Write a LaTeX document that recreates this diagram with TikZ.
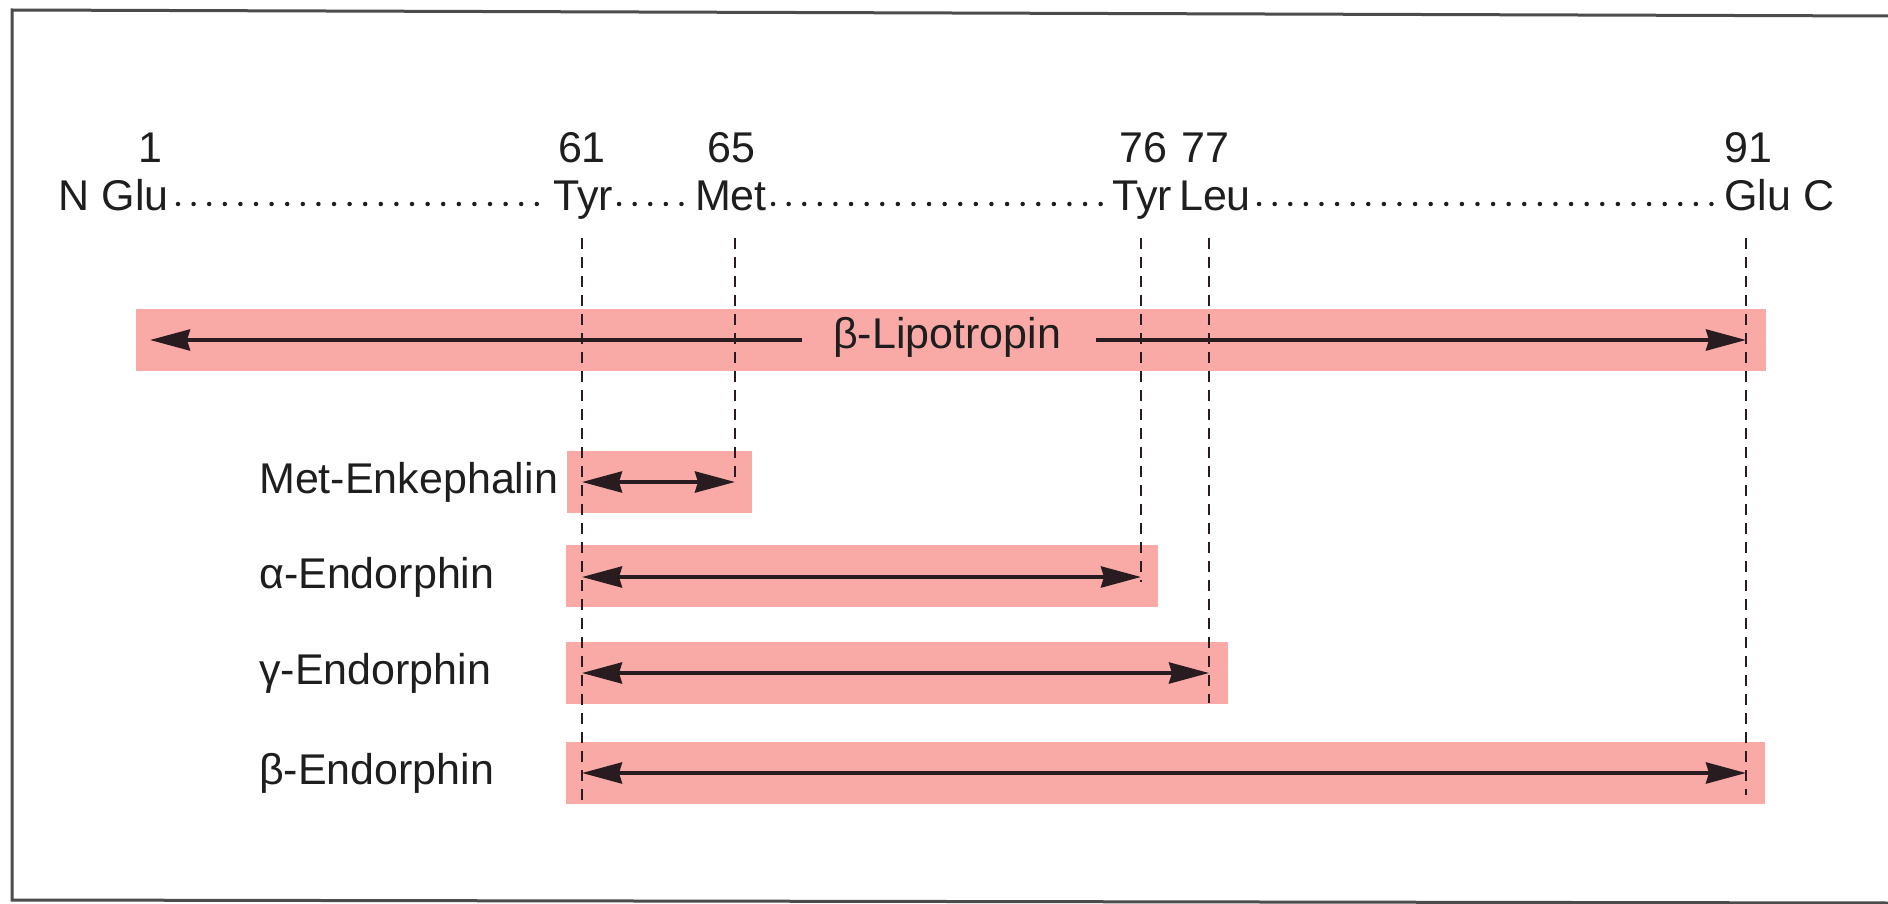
\documentclass[tikz,border=0pt]{standalone}
\usepackage{fontspec}
\setmainfont{Liberation Sans}
\usetikzlibrary{arrows.meta}
\definecolor{band}{RGB}{249,170,166}
\definecolor{ink}{RGB}{40,28,32}
\definecolor{txt}{RGB}{30,30,30}
\begin{document}
\begin{tikzpicture}[x=1pt,y=-1pt,
  lbl/.style={font=\fontsize{43}{48}\selectfont, text=txt, inner sep=0pt},
  bandbox/.style={fill=band, draw=none, inner sep=0pt, minimum height=62pt, anchor=west},
  arr/.style={draw=ink, line width=3.8pt, {Stealth[length=40pt,width=21pt,inset=3pt]}-{Stealth[length=40pt,width=21pt,inset=3pt]}},
  arrr/.style={draw=ink, line width=3.8pt, -{Stealth[length=40pt,width=21pt,inset=3pt]}},
  dashline/.style={draw=ink, line width=2pt, dash pattern=on 11pt off 8pt},
  dotline/.style={draw=txt, line width=4.5pt, line cap=round, dash pattern=on 0pt off 15.6pt},
  frame/.style={draw=black!70, line width=3pt}]
\clip (0,0) rectangle (1888,904);
\fill[white] (0,0) rectangle (1888,904);
% frame
\coordinate (fTL) at (12,10);
\coordinate (fTR) at (1890,16);
\coordinate (fBL) at (12,900);
\coordinate (fBR) at (1890,903);
\draw[frame] (fTR) -- (fTL) -- (fBL) -- (fBR);

% bands
\node[bandbox, minimum width=1630pt] (lipband) at (136,340) {};
\node[bandbox, minimum width=185pt] (metband) at (567,482) {};
\node[bandbox, minimum width=592pt] (alphaband) at (566,576) {};
\node[bandbox, minimum width=662pt] (gammaband) at (566,673) {};
\node[bandbox, minimum width=1199pt] (betaband) at (566,773) {};

% residue labels
\node[lbl, anchor=base] (n1) at (150,163) {1};
\node[lbl, anchor=base east] (nglu) at (169,211) {N Glu};
\node[lbl, anchor=base] (n61) at (582,163) {61};
\node[lbl, anchor=base] (tyr61) at (583,211) {Tyr};
\node[lbl, anchor=base] (n65) at (731,163) {65};
\node[lbl, anchor=base] (met65) at (731,211) {Met};
\node[lbl, anchor=base] (n76) at (1143,163) {76};
\node[lbl, anchor=base] (tyr76) at (1142,211) {Tyr};
\node[lbl, anchor=base] (n77) at (1205,163) {77};
\node[lbl, anchor=base] (leu77) at (1215,211) {Leu};
\node[lbl, anchor=base] (n91) at (1748,163) {91};
\node[lbl, anchor=base west] (gluc) at (1724,211) {Glu C};

% dotted chain
\draw[dotline] ([shift={(9pt,7pt)}]nglu.base east) -- ([shift={(-6pt,7pt)}]tyr61.base west);
\draw[dotline] ([shift={(6pt,7pt)}]tyr61.base east) -- ([shift={(-5pt,7pt)}]met65.base west);
\draw[dotline] ([shift={(6pt,7pt)}]met65.base east) -- ([shift={(-4pt,7pt)}]tyr76.base west);
\draw[dotline] ([shift={(8pt,7pt)}]leu77.base east) -- ([shift={(-5pt,7pt)}]gluc.base west);

% dashed guides
\coordinate (top61) at (582,238);  \coordinate (bot61) at (582,800);
\coordinate (top65) at (735,238);  \coordinate (bot65) at (735,482);
\coordinate (top76) at (1141,238); \coordinate (bot76) at (1141,582);
\coordinate (top77) at (1209,238); \coordinate (bot77) at (1209,703);
\coordinate (top91) at (1746,238); \coordinate (bot91) at (1746,795);
\draw[dashline] (top61) -- (bot61);
\draw[dashline] (top65) -- (bot65);
\draw[dashline] (top76) -- (bot76);
\draw[dashline] (top77) -- (bot77);
\draw[dashline] (top91) -- (bot91);

% beta-lipotropin
\coordinate (lipL) at (150,340);
\coordinate (lipR) at (1746,340);
\node[lbl, anchor=base] (lip) at (947,348) {β-Lipotropin};
\draw[arrr] ([xshift=-31pt]lip.west |- lipL) -- (lipL);
\draw[arrr] ([xshift=35pt]lip.east |- lipR) -- (lipR);

% peptides
\coordinate (metL) at (582,482);   \coordinate (metR) at (735,482);
\coordinate (alphaL) at (582,577); \coordinate (alphaR) at (1141,577);
\coordinate (gammaL) at (582,673); \coordinate (gammaR) at (1209,673);
\coordinate (betaL) at (582,773);  \coordinate (betaR) at (1746,773);
\draw[arr] (metL) -- (metR);
\draw[arr] (alphaL) -- (alphaR);
\draw[arr] (gammaL) -- (gammaR);
\draw[arr] (betaL) -- (betaR);

\node[lbl, anchor=base west] (metlbl) at (259,493) {Met-Enkephalin};
\node[lbl, anchor=base west] (alphalbl) at (259,588) {α-Endorphin};
\node[lbl, anchor=base west] (gammalbl) at (259,684) {γ-Endorphin};
\node[lbl, anchor=base west] (betalbl) at (259,784) {β-Endorphin};
\end{tikzpicture}
\end{document}
